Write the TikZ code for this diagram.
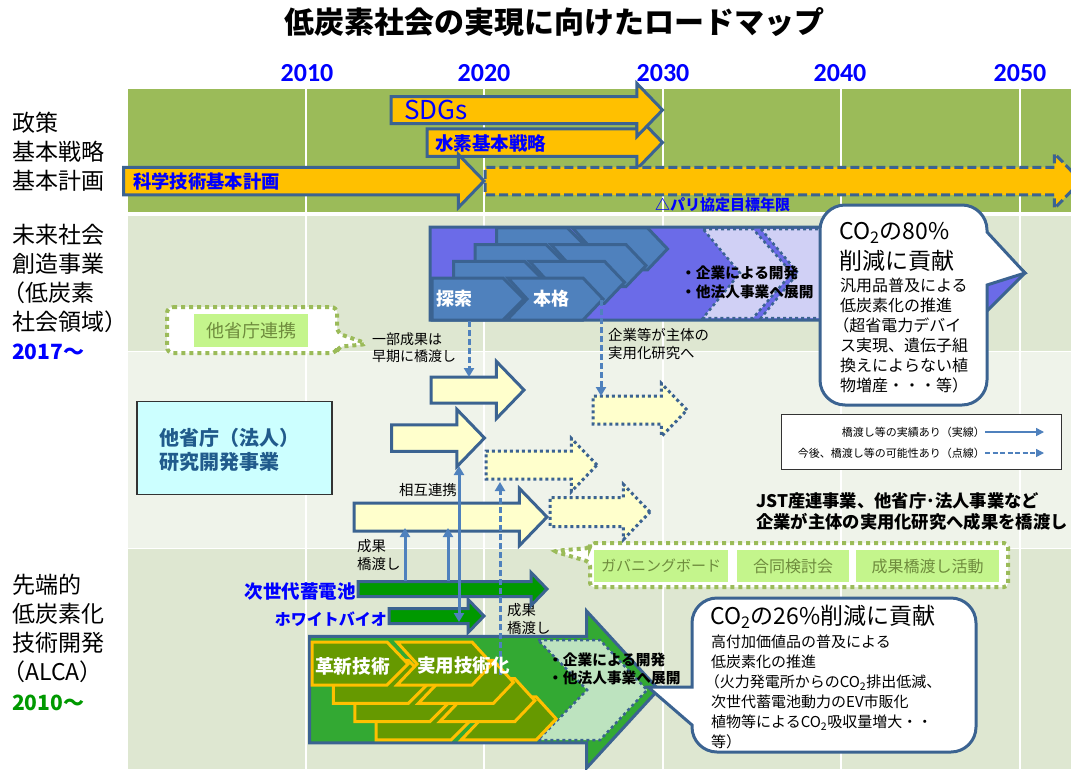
\documentclass[tikz,border=0pt]{standalone}
\usepackage{fontspec}
\setmainfont{Noto Sans CJK JP}
\newfontfamily\latinfont{Carlito}
\usetikzlibrary{positioning,shapes.arrows,arrows.meta}

\definecolor{bandtop}{HTML}{9BBB59}
\definecolor{banddark}{HTML}{DEE7D1}
\definecolor{bandlight}{HTML}{EFF3EA}
\definecolor{edgeblue}{HTML}{3B6391}
\definecolor{linkblue}{HTML}{4F81BD}
\definecolor{barorange}{HTML}{FFC000}
\definecolor{barcream}{HTML}{FFFFCC}
\definecolor{bargreen}{HTML}{009900}
\definecolor{alcagreen}{HTML}{33A933}
\definecolor{alcapale}{HTML}{BDE3BF}
\definecolor{alcaolive}{HTML}{669900}
\definecolor{futureviolet}{HTML}{6B6BE8}
\definecolor{futurepale}{HTML}{D0D0F5}
\definecolor{tagfill}{HTML}{C4F58C}
\definecolor{tagtext}{HTML}{6E8B3D}
\definecolor{tagedge}{HTML}{9BBB59}
\definecolor{cyanbox}{HTML}{CCFFFF}
\definecolor{cyantext}{HTML}{215B8C}

\tikzset{
    bar/.style n args={3}{shape=single arrow, draw=edgeblue, line width=3,
        anchor=tail, inner xsep=0, inner ysep=#3/2, outer sep=0,
        minimum height=#1, minimum width=#2, single arrow head extend=(#2-#3)/2,
        single arrow tip angle=92, single arrow head indent=0},
    dotbar/.style={dash pattern=on 3 off 3},
    txt/.style 2 args={inner sep=0, anchor=west, align=left, font=\fontsize{#1}{#2}\selectfont},
    boldtxt/.style 2 args={txt={#1}{#2}, font=\fontsize{#1}{#2}\selectfont\bfseries},
    year/.style={inner sep=0, text=blue, font=\latinfont\fontsize{26}{26}\selectfont\bfseries},
    tagbox/.style={fill=tagfill, text=tagtext, inner sep=0, font=\fontsize{16}{16}\selectfont},
    tagframe/.style={draw=tagedge, fill=white, line width=4, dash pattern=on 4 off 4},
    bluebar/.style={draw=edgeblue, fill=linkblue, line width=3},
    olivebar/.style={draw=barorange, fill=alcaolive, line width=3},
    callout/.style={draw=edgeblue, fill=white, line width=3},
    link/.style={draw=linkblue, line width=3, -{Triangle[length=9,width=10]}},
    dashlink/.style={link, dash pattern=on 6 off 3},
    keyline/.style={draw=linkblue, line width=1.5, -{Triangle[length=8,width=8]}}
}

% chevrons, bottom row of the upper block and top row of the lower block
\newcommand{\seekpath}{(432,278) -- (503,278) -- (524,299) -- (503,320) -- (432,320) -- cycle}
\newcommand{\fullpath}{(508,278) -- (583,278) -- (603,299) -- (583,320) -- (507,320) -- (527,299) -- cycle}
\newcommand{\newtechpath}{(312,642) -- (387,642) -- (408,664) -- (387,685) -- (312,685) -- cycle}
\newcommand{\usetechpath}{(397,642) -- (472,642) -- (492,664) -- (472,685) -- (397,685) -- (417,664) -- cycle}
% full-width bracket pulled to the left edge of its line
\newcommand{\openpar}{\hspace*{-.43em}（}

\begin{document}
\begin{tikzpicture}[x=1pt,y=-1pt]
    \useasboundingbox (0,0) rectangle (1071,769);
    \clip (0,0) rectangle (1071,769);

    % bands
    \fill[bandtop] (128,89) rectangle (1071,212);
    \fill[banddark] (128,216) rectangle (1071,351);
    \fill[bandlight] (128,352) rectangle (1071,548);
    \fill[banddark] (128,549) rectangle (1071,769);
    \draw[white, line width=1.5] (306,89) -- (306,769);
    \draw[white, line width=1.5] (484,89) -- (484,769);
    \draw[white, line width=1.5] (663,89) -- (663,769);
    \draw[white, line width=1.5] (841,89) -- (841,769);
    \draw[white, line width=1.5] (1020,89) -- (1020,769);

    % title and years
    \node[inner sep=0, font=\fontsize{30}{30}\selectfont\bfseries] (title) at (554,22) {低炭素社会の実現に向けたロードマップ};
    \node[year] (y2010) at (307,73) {2010};
    \node[year] (y2020) at (484,73) {2020};
    \node[year] (y2030) at (663,73) {2030};
    \node[year] (y2040) at (840,73) {2040};
    \node[year] (y2050) at (1020,73) {2050};

    % row titles
    \node[txt={23}{29}] (rowpolicy) at (12,152) {政策\\基本戦略\\基本計画};
    \node[txt={23}{29}] (rowfuture) at (12,278) {未来社会\\創造事業\\\openpar 低炭素\\社会領域）};
    \node[inner sep=0, anchor=west, text=blue, font=\fontsize{21}{21}\selectfont\bfseries] (yearfuture) at (12,352) {2017～};
    \node[txt={23}{29}] (rowalca) at (12,628) {先端的\\低炭素化\\技術開発\\\openpar ALCA）};
    \node[inner sep=0, anchor=west, text=bargreen, font=\fontsize{21}{21}\selectfont\bfseries] (yearalca) at (12,703) {2010～};

    % policy arrows
    \node[bar={235.5}{50}{24.5}, fill=barorange] (hydrogen) at (427,142.5) {};
    \node[bar={271.5}{50}{24}, fill=barorange] (sdgs) at (391,110) {};
    \node[bar={596}{52}{24.5}, fill=barorange, dash pattern=on 9 off 4] (sciplanext) at (485,181) {};
    \node[bar={360.5}{50}{24.5}, fill=barorange] (sciplan) at (123.5,181) {};
    \node[txt={26}{26}, text=blue] (sdgstext) at (404,110) {SDGs};
    \node[boldtxt={18.5}{18.5}, text=blue] (hydrogentext) at (435,143) {水素基本戦略};
    \node[boldtxt={18.3}{18.3}, text=blue] (sciplantext) at (133,181) {科学技術基本計画};
    \node[boldtxt={15}{15}, text=blue] (paris) at (655,205) {△パリ協定目標年限};

    % upper block
    \draw[draw=edgeblue, fill=futureviolet, line width=3] (430,227) -- (978,227) -- (1025,273) -- (978,320) -- (430,320) -- cycle;
    \draw[draw=edgeblue, fill=futurepale, line width=2.5, dotbar] (703,229) -- (753,229) -- (792,273) -- (753,318) -- (703,318) -- (740,273) -- cycle;
    \draw[draw=edgeblue, fill=futurepale, line width=2.5, dotbar] (761,229) -- (825,229) -- (860,273) -- (825,318) -- (761,318) -- (798,273) -- cycle;
    \draw[bluebar, shift={(64.5,-50.1)}] \seekpath;
    \draw[bluebar, shift={(64.5,-50.1)}] \fullpath;
    \draw[bluebar, shift={(43,-33.4)}] \seekpath;
    \draw[bluebar, shift={(43,-33.4)}] \fullpath;
    \draw[bluebar, shift={(21.5,-16.7)}] \seekpath;
    \draw[bluebar, shift={(21.5,-16.7)}] \fullpath;
    \draw[bluebar] \seekpath;
    \draw[bluebar] \fullpath;
    \node[boldtxt={18}{18}, text=white] (seek) at (436,299) {探索};
    \node[boldtxt={18}{18}, text=white] (full) at (533,299) {本格};
    \node[boldtxt={14.7}{19}] (futuredev) at (681,282.5) {・企業による開発\\・他法人事業へ展開};

    % callout of the upper block
    \draw[callout] [rounded corners=25] (900,205) -- (987,205) [sharp corners] -- (987,232) -- (1025,273) -- (987,285) [rounded corners=25] -- (987,405) -- (820,405) -- (820,205) -- cycle;
    \node[txt={23}{30}] (cut80) at (839,247) {CO\textsubscript{2}の80\%\\削減に貢献};
    \node[txt={16}{20}] (cut80more) at (840,336) {汎用品普及による\\低炭素化の推進\\\openpar 超省電力デバイ\\ス実現、遺伝子組\\換えによらない植\\物増産・・・等）};

    % other ministries tag
    \draw[tagframe, rounded corners=6] (167,307) -- (337,307) -- (337,333) -- (368,344) -- (337,347) -- (337,353) -- (167,353) -- cycle;
    \node[tagbox, minimum width=114, minimum height=33, font=\fontsize{18}{18}\selectfont] (othertag) at (251,330.5) {他省庁連携};

    % notes
    \node[txt={14}{17}] (earlynote) at (372,348) {一部成果は\\早期に橋渡し};
    \node[txt={14.4}{18}] (firmnote) at (608,344) {企業等が主体の\\実用化研究へ};
    \node[txt={14.4}{14.4}] (mutual) at (399,490) {相互連携};
    \node[txt={14.4}{18}] (resulta) at (357,555) {成果\\橋渡し};
    \node[txt={14.4}{18}] (resultb) at (507,619) {成果\\橋渡し};

    % cream arrows
    \node[bar={93}{54}{23}, fill=barcream] (creama) at (431,390) {};
    \node[bar={93}{54}{23.5}, fill=barcream] (creamb) at (391.5,438) {};
    \node[bar={193}{54}{25}, fill=barcream] (creamc) at (354,517) {};
    \node[bar={94}{50}{25}, fill=barcream, dotbar] (dota) at (593,410) {};
    \node[bar={111}{50}{25}, fill=barcream, dotbar] (dotb) at (486,465) {};
    \node[bar={100}{52}{26}, fill=barcream, dotbar] (dotc) at (550,512) {};

    % ministries box
    \node[draw=black!80, fill=cyanbox, line width=1.2, minimum width=195, minimum height=93, inner sep=0] (ministry) at (234.5,448) {};
    \node[boldtxt={20}{24}, text=cyantext] (ministrytext) at (159,450) {他省庁（法人）\\研究開発事業};

    % legend
    \node[draw=black!80, fill=white, line width=1, minimum width=280, minimum height=55, inner sep=0] (key) at (921.5,441.5) {};
    \node[inner sep=0, anchor=east, font=\fontsize{11}{11}\selectfont] (keysolid) at (985,432) {橋渡し等の実績あり（実線）};
    \node[inner sep=0, anchor=east, font=\fontsize{11}{11}\selectfont] (keydash) at (985,453) {今後、橋渡し等の可能性あり（点線）};
    \coordinate (keysolidend) at (1044,432);
    \coordinate (keydashend) at (1044,453);
    \draw[keyline] (keysolid.east) -- (keysolidend);
    \draw[keyline, dash pattern=on 5 off 2.5] (keydash.east) -- (keydashend);

    % bold remark
    \node[boldtxt={17.3}{21}] (remark) at (756,512) {JST産連事業、他省庁･法人事業など\\企業が主体の実用化研究へ成果を橋渡し};

    % governance tags
    \draw[tagframe, rounded corners=4] (590,543) -- (1008,543) -- (1008,587) -- (590,587) -- (590,562) -- (553,551) -- (590,548) -- cycle;
    \node[tagbox, minimum width=134, minimum height=32, font=\fontsize{15}{15}\selectfont] (govboard) at (661,566) {ガバニングボード};
    \node[tagbox, minimum width=112, minimum height=32] (jointmeet) at (793,566) {合同検討会};
    \node[tagbox, minimum width=143, minimum height=32] (bridgework) at (927.5,566) {成果橋渡し活動};

    % green arrows
    \node[bar={189}{30}{12}, fill=bargreen] (battery) at (358,589) {};
    \node[bar={95}{30}{12}, fill=bargreen] (whitebio) at (389,616) {};
    \node[boldtxt={18.5}{18.5}, text=blue, anchor=east] (batterytext) at (356,591.5) {次世代蓄電池};
    \node[boldtxt={16}{16}, text=blue, anchor=east] (whitebiotext) at (387,619) {ホワイトバイオ};

    % lower block
    \node[bar={349}{154}{103.5}, fill=alcagreen, single arrow tip angle=95] (alca) at (309.5,689.5) {};
    \draw[draw=edgeblue, fill=alcapale, line width=2.5, dotbar] (538,640) -- (600,640) -- (647,690) -- (600,740) -- (538,740) -- (587,690) -- cycle;
    \draw[olivebar, shift={(64.2,54.9)}] \newtechpath;
    \draw[olivebar, shift={(64.2,54.9)}] \usetechpath;
    \draw[olivebar, shift={(42.8,36.6)}] \newtechpath;
    \draw[olivebar, shift={(42.8,36.6)}] \usetechpath;
    \draw[olivebar, shift={(21.4,18.3)}] \newtechpath;
    \draw[olivebar, shift={(21.4,18.3)}] \usetechpath;
    \draw[olivebar] \newtechpath;
    \draw[olivebar] \usetechpath;

    % links
    \coordinate (linkaout) at (469,321);
    \coordinate (linkaend) at (469,377);
    \coordinate (linkbout) at (601,300);
    \coordinate (linkbend) at (601,396);
    \coordinate (linkcout) at (405,581);
    \coordinate (linkcend) at (405,528);
    \coordinate (linkdout) at (448,581);
    \coordinate (linkdend) at (448,528);
    \coordinate (linkeup) at (459,466);
    \coordinate (linkedown) at (459,622);
    \coordinate (linkfout) at (500,675);
    \coordinate (linkfend) at (500,482);
    \draw[dashlink] (linkaout) -- (linkaend);
    \draw[dashlink] (linkbout) -- (linkbend);
    \draw[link] (linkcout) -- (linkcend);
    \draw[link] (linkdout) -- (linkdend);
    \draw[link, {Triangle[length=9,width=10]}-{Triangle[length=9,width=10]}] (linkeup) -- (linkedown);
    \draw[dashlink] (linkfout) -- (linkfend);

    % texts of the lower block
    \node[boldtxt={18.7}{18.7}, text=white] (newtech) at (315,666) {革新技術};
    \node[boldtxt={18.5}{18.5}, text=white] (usetech) at (417,666) {実用技術化};
    \node[boldtxt={14.7}{18}] (alcadev) at (548,669) {・企業による開発\\・他法人事業へ展開};

    % callout of the lower block
    \draw[callout] [rounded corners=25] (830,598) -- (976,598) -- (976,752) -- (692,752) [sharp corners] -- (692,725) -- (648,687) -- (692,687) [rounded corners=25] -- (692,598) -- cycle;
    \node[txt={23}{23}] (cut26) at (710,617) {CO\textsubscript{2}の26\%削減に貢献};
    \node[txt={15}{20}] (cut26more) at (711,692) {高付加価値品の普及による\\低炭素化の推進\\\openpar 火力発電所からのCO\textsubscript{2}排出低減、\\次世代蓄電池動力のEV市販化\\植物等によるCO\textsubscript{2}吸収量増大・・\\等）};
\end{tikzpicture}
\end{document}
